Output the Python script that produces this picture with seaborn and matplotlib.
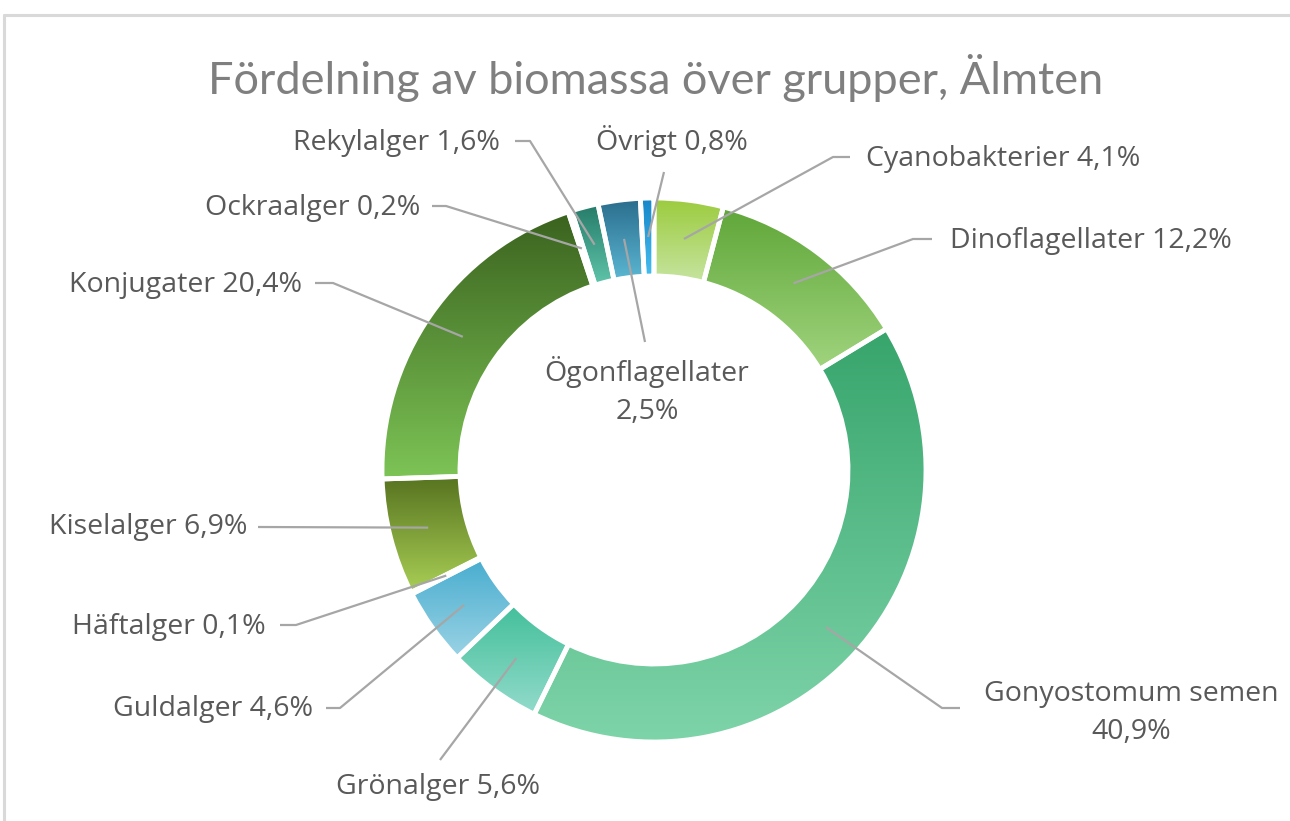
import numpy as np
import matplotlib.pyplot as plt
import seaborn as sns
from matplotlib.lines import Line2D

# Data (alphabetical, clockwise from 12 o'clock)
groups = ["Cyanobakterier", "Dinoflagellater", "Gonyostomum semen", "Grönalger",
          "Guldalger", "Häftalger", "Kiselalger", "Konjugater", "Ockraalger",
          "Rekylalger", "Ögonflagellater", "Övrigt"]
shares = [4.1, 12.2, 40.9, 5.6, 4.6, 0.1, 6.9, 20.4, 0.2, 1.6, 2.5, 0.8]

# Gradient colours per slice (top -> bottom)
top_colors = ["#9BCB3C", "#5FA638", "#37A56C", "#42BF9A", "#48ADCF", "#5E8F3A",
              "#56721F", "#3A621E", "#6B8E23", "#257A68", "#2A6C8C", "#1786C8"]
bottom_colors = ["#C6E4A0", "#A0D47E", "#7ED4A9", "#93DBCB", "#9BD3E5", "#9FCB6A",
                 "#A9CF55", "#7DC456", "#A4C860", "#5FC5AA", "#5BB7D3", "#44BDF0"]

# Layout (pixel coords measured from top-left of the image)
W, H = 1290, 821
label_pos = [(866, 159, "left"), (950, 241, "left"), (1131, 713, "center"),
             (438, 787, "center"), (313, 709, "right"), (266, 627, "right"),
             (247, 527, "right"), (302, 285, "right"), (420, 208, "right"),
             (500, 143, "right"), (647, 391, "center"), (672, 141, "center")]
leader_elbow = [(833, 157), (913, 239), (942, 708), None, (340, 708), (296, 625),
                None, (333, 283), (446, 206), (530, 141), None, None]
leader_end = [(850, 157), (932, 239), (960, 708), (440, 760), (326, 708), (280, 625),
              (258, 527), (315, 283), (432, 206), (515, 141), (645, 342), (664, 172)]

sns.set_style("white")
plt.rcParams['font.family'] = ['Open Sans', 'DejaVu Sans']


def px(p):
    return p[0], H - p[1]


fig = plt.figure(figsize=(W / 100, H / 100), dpi=100)
ax = fig.add_axes([0, 0, 1, 1])

cx, cy = px((654, 470))
R = 272
hole = 194 / 272

wedges, _ = ax.pie(shares, radius=R, center=(cx, cy), startangle=90,
                   counterclock=False,
                   wedgeprops=dict(width=R * (1 - hole), edgecolor="white",
                                   linewidth=3.5))

# vertical gradient inside each slice
grad = np.linspace(0, 1, 256).reshape(-1, 1)
for w, c0, c1 in zip(wedges, top_colors, bottom_colors):
    bb = w.get_path().get_extents()
    cmap = sns.blend_palette([c0, c1], as_cmap=True)
    im = ax.imshow(grad, cmap=cmap, extent=(bb.x0, bb.x1, bb.y0, bb.y1),
                   origin="upper", aspect="auto", interpolation="bicubic", zorder=1)
    im.set_clip_path(w)
    w.set_facecolor("none")
    w.set_zorder(2)

# Leader lines and labels
r_mid = R * (1 + hole) / 2
for i, w in enumerate(wedges):
    mid = np.deg2rad((w.theta1 + w.theta2) / 2)
    xs = [cx + r_mid * np.cos(mid)]
    ys = [cy + r_mid * np.sin(mid)]
    for p in (leader_elbow[i], leader_end[i]):
        if p is not None:
            x, y = px(p)
            xs.append(x)
            ys.append(y)
    ax.plot(xs, ys, color="#A6A6A6", lw=1.6, zorder=3, solid_capstyle="butt")

    val = f"{shares[i]:.1f}%".replace(".", ",")
    sep = "\n" if groups[i] in ("Gonyostomum semen", "Ögonflagellater") else " "
    lx, ly, ha = label_pos[i]
    ax.text(lx, H - ly, groups[i] + sep + val, ha=ha, va="center",
            fontsize=20.5, color="#595959", linespacing=1.45, zorder=4)

ax.text(656, H - 78, "Fördelning av biomassa över grupper, Älmten",
        ha="center", va="center", fontsize=32.5, color="#7F7F7F",
        family=["Lato", "DejaVu Sans"])

ax.set_xlim(0, W)
ax.set_ylim(0, H)
ax.set_aspect("equal")
ax.axis("off")

# Chart frame (top and left edges visible)
fig.add_artist(Line2D([4 / W, 1], [1 - 15 / H, 1 - 15 / H], transform=fig.transFigure,
                      color="#D9D9D9", lw=2.2))
fig.add_artist(Line2D([4 / W, 4 / W], [0, 1 - 15 / H], transform=fig.transFigure,
                      color="#D9D9D9", lw=2.2))

fig.savefig("out.png", dpi=100)
